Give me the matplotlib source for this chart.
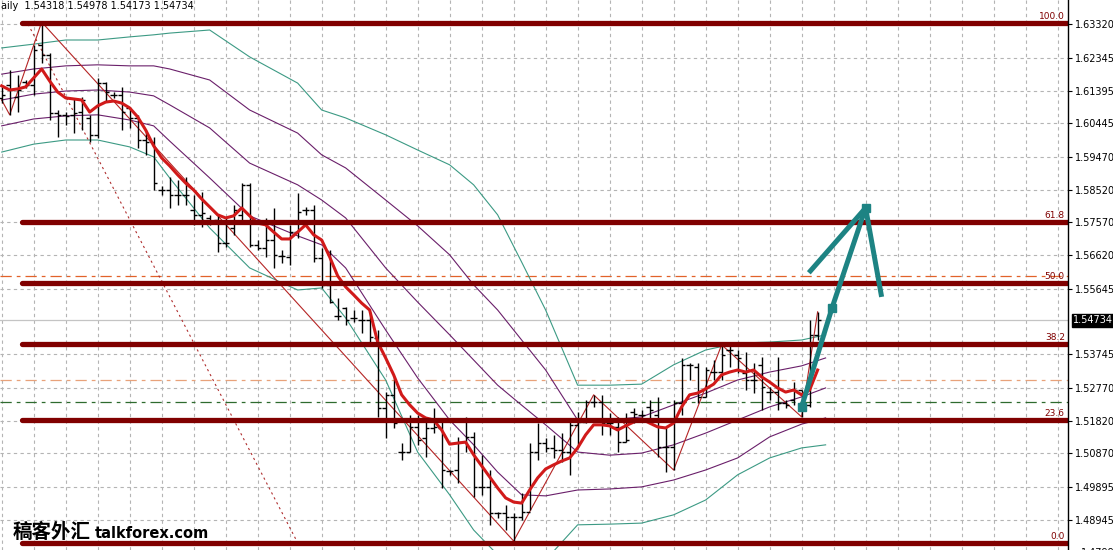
import matplotlib.pyplot as plt
import matplotlib.transforms as mtransforms

# daily OHLC bars (oldest first)
bar_high = [1.6150, 1.6199, 1.6184, 1.6170, 1.6272, 1.6338, 1.6248, 1.6083, 1.6077, 1.6118,
            1.6121, 1.6069, 1.6176, 1.6164, 1.6135, 1.6150, 1.6092, 1.6069, 1.6025, 1.6005,
            1.5863, 1.5889, 1.5880, 1.5889, 1.5837, 1.5845, 1.5779, 1.5779, 1.5770, 1.5807,
            1.5871, 1.5871, 1.5706, 1.5770, 1.5799, 1.5677, 1.5750, 1.5842, 1.5802, 1.5807,
            1.5683, 1.5677, 1.5538, 1.5512, 1.5503, 1.5503, 1.5497, 1.5445, 1.5265, 1.5309,
            1.5117, 1.5198, 1.5198, 1.5193, 1.5219, 1.5178, 1.5039, 1.5135, 1.5193, 1.5149,
            1.5083, 1.5039, 1.4917, 1.4938, 1.4914, 1.4972, 1.5117, 1.5175, 1.5132, 1.5141,
            1.5146, 1.5178, 1.5207, 1.5242, 1.5257, 1.5257, 1.5204, 1.5193, 1.5204, 1.5219,
            1.5213, 1.5242, 1.5251, 1.5164, 1.5242, 1.5364, 1.5349, 1.5349, 1.5338, 1.5358,
            1.5402, 1.5407, 1.5387, 1.5381, 1.5349, 1.5367, 1.5280, 1.5367, 1.5242, 1.5294,
            1.5271, 1.5474, 1.54978]
bar_low = [1.6103, 1.6069, 1.6077, 1.6147, 1.6126, 1.6219, 1.6054, 1.6005, 1.6040, 1.6016,
           1.6025, 1.5990, 1.6002, 1.6106, 1.6118, 1.6025, 1.6031, 1.5973, 1.5953, 1.5851,
           1.5837, 1.5799, 1.5807, 1.5807, 1.5750, 1.5744, 1.5750, 1.5671, 1.5686, 1.5721,
           1.5758, 1.5686, 1.5677, 1.5657, 1.5625, 1.5639, 1.5634, 1.5712, 1.5779, 1.5642,
           1.5567, 1.5523, 1.5474, 1.5459, 1.5468, 1.5436, 1.5410, 1.5193, 1.5132, 1.5161,
           1.5068, 1.5091, 1.5112, 1.5077, 1.5146, 1.4987, 1.5025, 1.5001, 1.5091, 1.4961,
           1.4967, 1.4880, 1.4900, 1.4865, 1.4833, 1.4894, 1.4923, 1.5068, 1.5091, 1.5074,
           1.5062, 1.5025, 1.5106, 1.5175, 1.5222, 1.5141, 1.5141, 1.5091, 1.5120, 1.5175,
           1.5178, 1.5175, 1.5077, 1.5033, 1.5039, 1.5198, 1.5300, 1.5233, 1.5251, 1.5300,
           1.5300, 1.5338, 1.5320, 1.5271, 1.5262, 1.5213, 1.5242, 1.5213, 1.5219, 1.5227,
           1.5193, 1.5222, 1.54173]
bar_open = [1.6118, 1.6155, 1.6121, 1.6164, 1.6155, 1.6272, 1.6243, 1.6074, 1.6069, 1.6069,
            1.6077, 1.6060, 1.6011, 1.6161, 1.6126, 1.6126, 1.6089, 1.6060, 1.5996, 1.5990,
            1.5851, 1.5851, 1.5837, 1.5837, 1.5793, 1.5779, 1.5770, 1.5764, 1.5697, 1.5741,
            1.5779, 1.5866, 1.5691, 1.5683, 1.5706, 1.5660, 1.5657, 1.5729, 1.5793, 1.5793,
            1.5654, 1.5576, 1.5486, 1.5509, 1.5480, 1.5474, 1.5474, 1.5422, 1.5219, 1.5257,
            1.5091, 1.5091, 1.5164, 1.5132, 1.5161, 1.5161, 1.5036, 1.5039, 1.5120, 1.5135,
            1.4990, 1.4990, 1.4914, 1.4914, 1.4903, 1.4903, 1.4917, 1.5091, 1.5117, 1.5103,
            1.5097, 1.5091, 1.5170, 1.5178, 1.5236, 1.5236, 1.5175, 1.5164, 1.5120, 1.5207,
            1.5198, 1.5222, 1.5198, 1.5106, 1.5106, 1.5233, 1.5344, 1.5338, 1.5251, 1.5323,
            1.5323, 1.5387, 1.5373, 1.5320, 1.5300, 1.5344, 1.5265, 1.5265, 1.5233, 1.5242,
            1.5271, 1.5227, 1.54318]
bar_close = [1.6126, 1.6141, 1.6141, 1.6155, 1.6257, 1.6243, 1.6074, 1.6069, 1.6066, 1.6074,
             1.6112, 1.6011, 1.6161, 1.6135, 1.6126, 1.6077, 1.6060, 1.5996, 1.5990, 1.5871,
             1.5851, 1.5837, 1.5837, 1.5837, 1.5779, 1.5784, 1.5761, 1.5697, 1.5697, 1.5793,
             1.5866, 1.5691, 1.5683, 1.5706, 1.5663, 1.5660, 1.5729, 1.5787, 1.5793, 1.5654,
             1.5576, 1.5526, 1.5486, 1.5474, 1.5480, 1.5474, 1.5425, 1.5219, 1.5257, 1.5175,
             1.5091, 1.5164, 1.5126, 1.5161, 1.5164, 1.5039, 1.5036, 1.5120, 1.5135, 1.4990,
             1.4990, 1.4914, 1.4914, 1.4903, 1.4903, 1.4917, 1.5091, 1.5117, 1.5103, 1.5097,
             1.5091, 1.5170, 1.5178, 1.5236, 1.5236, 1.5175, 1.5175, 1.5120, 1.5126, 1.5201,
             1.5198, 1.5213, 1.5106, 1.5106, 1.5233, 1.5344, 1.5344, 1.5251, 1.5329, 1.5323,
             1.5373, 1.5387, 1.5364, 1.5300, 1.5300, 1.5280, 1.5265, 1.5233, 1.5227, 1.5271,
             1.5227, 1.5430, 1.54734]

# thick red moving average
ma_fast = [1.6153, 1.6141, 1.6144, 1.6150, 1.6176, 1.6202, 1.6167, 1.6135, 1.6118, 1.6115,
           1.6112, 1.6077, 1.6095, 1.6106, 1.6109, 1.6103, 1.6089, 1.6063, 1.6025, 1.5979,
           1.5944, 1.5921, 1.5895, 1.5871, 1.5851, 1.5825, 1.5802, 1.5779, 1.5770, 1.5776,
           1.5799, 1.5776, 1.5755, 1.5750, 1.5729, 1.5709, 1.5709, 1.5729, 1.5750, 1.5721,
           1.5706, 1.5657, 1.5602, 1.5570, 1.5547, 1.5523, 1.5503, 1.5410, 1.5364, 1.5315,
           1.5257, 1.5228, 1.5204, 1.5190, 1.5184, 1.5155, 1.5114, 1.5117, 1.5120, 1.5083,
           1.5051, 1.5019, 1.4987, 1.4958, 1.4946, 1.4943, 1.4981, 1.5016, 1.5042, 1.5054,
           1.5065, 1.5074, 1.5103, 1.5141, 1.5170, 1.5170, 1.5167, 1.5155, 1.5167, 1.5178,
           1.5187, 1.5175, 1.5164, 1.5161, 1.5175, 1.5222, 1.5257, 1.5262, 1.5274, 1.5288,
           1.5315, 1.5323, 1.5329, 1.5323, 1.5329, 1.5309, 1.5294, 1.5277, 1.5265, 1.5271,
           1.5257, 1.5271, 1.5329]

# bands (purple inner pair + middle, teal outer pair)
band_idx = [0, 4, 8, 12, 16, 19, 21, 26, 31, 37, 40, 43, 48, 52, 56, 59, 62, 65, 68, 72,
            76, 80, 84, 88, 92, 96, 100, 103]
teal_up = [1.6263, 1.6274, 1.6286, 1.6286, 1.6295, 1.6301, 1.6306, 1.6315, 1.6237, 1.6161,
           1.6083, 1.6060, 1.6011, 1.5967, 1.5924, 1.5866, 1.5779, 1.5642, 1.5503, 1.5285,
           1.5285, 1.5288, 1.5344, 1.5387, 1.5407, 1.5410, 1.5416, 1.5431]
purple_up = [1.6187, 1.6202, 1.6211, 1.6214, 1.6211, 1.6211, 1.6202, 1.6170, 1.6083, 1.6016,
             1.5953, 1.5915, 1.5822, 1.5747, 1.5663, 1.5576, 1.5503, 1.5416, 1.5329, 1.5184,
             1.5184, 1.5193, 1.5228, 1.5262, 1.5300, 1.5323, 1.5341, 1.5364]
purple_mid = [1.6112, 1.6129, 1.6138, 1.6141, 1.6135, 1.6124, 1.6098, 1.6031, 1.5929, 1.5866,
              1.5822, 1.5770, 1.5625, 1.5526, 1.5431, 1.5358, 1.5285, 1.5227, 1.5170, 1.5091,
              1.5082, 1.5088, 1.5112, 1.5146, 1.5184, 1.5222, 1.5251, 1.5277]
purple_low = [1.6037, 1.6057, 1.6066, 1.6069, 1.6054, 1.6037, 1.5993, 1.5886, 1.5776, 1.5718,
              1.5692, 1.5625, 1.5445, 1.5306, 1.5184, 1.5112, 1.5033, 1.4967, 1.4964, 1.4981,
              1.4984, 1.4990, 1.5010, 1.5039, 1.5074, 1.5135, 1.5172, 1.5190]
teal_low = [1.5961, 1.5984, 1.5996, 1.5996, 1.5976, 1.5947, 1.5886, 1.5741, 1.5625, 1.5561,
            1.5567, 1.5480, 1.5300, 1.5091, 1.4967, 1.4865, 1.4793, 1.4735, 1.4778, 1.4880,
            1.4882, 1.4885, 1.4909, 1.4952, 1.5025, 1.5074, 1.5103, 1.5112]

# zigzag swing points
zz_idx = [0, 1, 5, 64, 74, 84, 90, 100, 102]
zz_price = [1.6112, 1.6069, 1.6338, 1.4833, 1.5257, 1.5039, 1.5402, 1.5193, 1.54978]

# fibonacci retracement
fib_labels = ['0.0', '23.6', '38.2', '50.0', '61.8', '100.0']
fib_prices = [1.4828, 1.5184, 1.5404, 1.5582, 1.5759, 1.6335]
fib_start = 2.6
fib_trend_idx = [3.3, 37.0]
fib_trend_price = [1.6332, 1.4828]

# other horizontal lines
level_orange = 1.5601
level_orange2 = 1.5300
level_green = 1.5236
last_price = 1.54734

# hand-drawn forecast arrow
arrow_idx = [100.0, 103.8, 108.0]
arrow_price = [1.5222, 1.5509, 1.5799]
wing_idx = [100.9, 108.0, 110.0]
wing_price = [1.5611, 1.5799, 1.5541]

ytick_vals = [1.63320, 1.62345, 1.61395, 1.60445, 1.59470, 1.58520, 1.57570, 1.56620,
              1.55645, 1.53745, 1.52770, 1.51820, 1.50870, 1.49895, 1.48945]

fig = plt.figure(figsize=(11.13, 5.5), dpi=100)
ax = fig.add_axes([0, 0, 1068 / 1113, 1])
ax.set_xlim(-0.21, 133.3)
ax.set_ylim(1.4807, 1.6402)

# grid
ax.set_xticks(range(0, 133, 4))
ax.set_yticks(ytick_vals)
ax.set_yticklabels(['%.5f' % v for v in ytick_vals])
ax.grid(True, color='#b4b4b4', linestyle=(0, (3, 3)), linewidth=0.8)
ax.tick_params(axis='x', length=0, labelbottom=False)
ax.yaxis.tick_right()
ax.tick_params(axis='y', length=3, width=0.8, labelsize=7, pad=2, direction='out')
for s in ['left', 'top', 'bottom']:
    ax.spines[s].set_visible(False)
ax.spines['right'].set_linewidth(1.0)

# horizontal levels
ax.axhline(level_orange, color='#e2622a', lw=0.9, ls=(0, (9, 4, 3, 4)))
ax.axhline(level_orange2, color='#e8a27a', lw=0.9, ls=(0, (9, 4, 3, 4)))
ax.axhline(level_green, color='#2e6b2e', lw=0.9, ls=(0, (9, 4, 3, 4)))
ax.axhline(last_price, color='#c4c4c4', lw=0.9)

# bands
ax.plot(band_idx, teal_up, color='#3c9a84', lw=0.8)
ax.plot(band_idx, teal_low, color='#3c9a84', lw=0.8)
ax.plot(band_idx, purple_up, color='#6a1f6a', lw=0.8)
ax.plot(band_idx, purple_mid, color='#6a1f6a', lw=0.8)
ax.plot(band_idx, purple_low, color='#6a1f6a', lw=0.8)

# fib trend line and zigzag
ax.plot(fib_trend_idx, fib_trend_price, color='#b03030', lw=0.8, ls=(0, (2, 3)))
ax.plot(zz_idx, zz_price, color='#b52525', lw=0.8)

# bars
idx = list(range(len(bar_close)))
ax.vlines(idx, bar_low, bar_high, color='black', lw=1.0)
ax.hlines(bar_open, [i - 0.45 for i in idx], idx, color='black', lw=1.0)
ax.hlines(bar_close, idx, [i + 0.45 for i in idx], color='black', lw=1.0)

# moving average
ax.plot(idx, ma_fast, color='#d11a1a', lw=2.2, solid_joinstyle='round')

# fibonacci levels
for lab, p in zip(fib_labels, fib_prices):
    ax.plot([fib_start, 133.3], [p, p], color='#800000', lw=3.8, solid_capstyle='round')
    ax.text(132.9, p + 0.0006, lab, ha='right', va='bottom', fontsize=6.5, color='#800000')

# forecast arrow
ax.plot(arrow_idx, arrow_price, color='#1d8383', lw=3.6, marker='s', markersize=6,
        solid_capstyle='butt')
ax.plot(wing_idx, wing_price, color='#1d8383', lw=3.6, solid_capstyle='butt')

# current price tag on the axis
trans = mtransforms.blended_transform_factory(ax.transAxes, ax.transData)
ax.text(1.005, last_price, '%.5f' % last_price, transform=trans, fontsize=7, color='white',
        va='center', ha='left',
        bbox=dict(boxstyle='square,pad=0.15', fc='black', ec='black'))
ax.text(1.012, 1.47995, '1.47995', transform=trans, fontsize=7, va='center', ha='left',
        clip_on=False)

# header and watermark
fig.text(0.001, 0.999, 'aily  1.54318 1.54978 1.54173 1.54734', fontsize=7, va='top', ha='left')
fig.text(0.011, 0.022, '稿客外汇', fontsize=14, fontweight='bold', va='baseline', ha='left',
         family=['Noto Sans CJK SC', 'DejaVu Sans'])
fig.text(0.085, 0.022, 'talkforex.com', fontsize=10.5, fontweight='bold', va='baseline',
         ha='left')

fig.savefig('out.png', dpi=100)
